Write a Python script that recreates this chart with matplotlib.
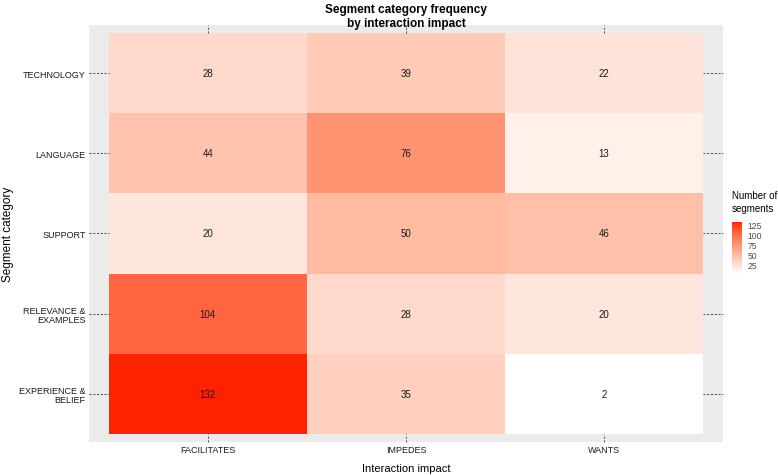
import numpy as np
import matplotlib.pyplot as plt
from matplotlib.colors import ListedColormap, Normalize, to_rgb

plt.rcParams['font.family'] = ['Liberation Sans', 'DejaVu Sans']

# dados
impacts = ['FACILITATES', 'IMPEDES', 'WANTS']
categories = ['EXPERIENCE &\nBELIEF', 'RELEVANCE &\nEXAMPLES', 'SUPPORT', 'LANGUAGE', 'TECHNOLOGY']
facilitates = [132, 104, 20, 44, 28]
impedes = [35, 28, 50, 76, 39]
wants = [2, 20, 46, 13, 22]
legend_ticks = [25, 50, 75, 100, 125]

counts = np.array([facilitates, impedes, wants]).T  # linhas = categorias


# gradiente branco -> vermelho interpolado em Lab (como no ggplot)
def rgb2lab(c):
    c = np.asarray(c, float)
    c = np.where(c > 0.04045, ((c + 0.055) / 1.055) ** 2.4, c / 12.92)
    M = np.array([[0.4124, 0.3576, 0.1805], [0.2126, 0.7152, 0.0722], [0.0193, 0.1192, 0.9505]])
    xyz = M @ c / np.array([0.95047, 1.0, 1.08883])
    f = np.where(xyz > 0.008856, np.cbrt(xyz), 7.787 * xyz + 16 / 116)
    return np.array([116 * f[1] - 16, 500 * (f[0] - f[1]), 200 * (f[1] - f[2])])


def lab2rgb(lab):
    L, a, b = lab
    fy = (L + 16) / 116
    f = np.array([fy + a / 500, fy, fy - b / 200])
    xyz = np.where(f ** 3 > 0.008856, f ** 3, (f - 16 / 116) / 7.787) * np.array([0.95047, 1.0, 1.08883])
    Minv = np.array([[3.2406, -1.5372, -0.4986], [-0.9689, 1.8758, 0.0415], [0.0557, -0.2040, 1.0570]])
    c = Minv @ xyz
    c = np.where(c > 0.0031308, 1.055 * np.clip(c, 0, None) ** (1 / 2.4) - 0.055, 12.92 * c)
    return np.clip(c, 0, 1)


lab_lo, lab_hi = rgb2lab(to_rgb('#FFFFFF')), rgb2lab(to_rgb('#FF2200'))
cmap = ListedColormap([lab2rgb(lab_lo + t * (lab_hi - lab_lo)) for t in np.linspace(0, 1, 256)])
norm = Normalize(vmin=counts.min(), vmax=counts.max())

fig = plt.figure(figsize=(7.78, 4.77), dpi=100)
ax = fig.add_axes([89 / 778, 1 - 443 / 477, 634 / 778, 417 / 477])
ax.set_facecolor('#EBEBEB')

ax.pcolormesh(np.arange(len(impacts) + 1) - 0.5, np.arange(len(categories) + 1) - 0.5,
              counts, cmap=cmap, norm=norm)

for i in range(len(categories)):
    for j in range(len(impacts)):
        ax.text(j, i, str(counts[i, j]), ha='center', va='center', fontsize=7, color='#1A1A1A')

ax.set_xlim(-0.6, len(impacts) - 0.4)
ax.set_ylim(-0.6, len(categories) - 0.4)

# ticks tracejados dentro da margem do painel
tick_kw = dict(ls=(0, (2.5, 2)), lw=0.6, color='#333333', clip_on=False)
for i in range(len(categories)):
    ax.plot([-0.6, -0.5], [i, i], **tick_kw)
    ax.plot([len(impacts) - 0.5, len(impacts) - 0.4], [i, i], **tick_kw)
for j in range(len(impacts)):
    ax.plot([j, j], [-0.6, -0.5], **tick_kw)
    ax.plot([j, j], [len(categories) - 0.5, len(categories) - 0.4], **tick_kw)

ax.set_xticks(range(len(impacts)))
ax.set_xticklabels(impacts, fontsize=6.5, color='#1A1A1A')
ax.set_yticks(range(len(categories)))
ax.set_yticklabels(categories, fontsize=6.5, color='#1A1A1A', linespacing=1.0)
ax.tick_params(length=0, pad=2.5)
for s in ax.spines.values():
    s.set_visible(False)

ax.set_xlabel('Interaction impact', fontsize=8, labelpad=6)
ax.set_ylabel('Segment category', fontsize=8.5, labelpad=3.5)
fig.text(406 / 778, 1 - 27 / 477, 'Segment category frequency\nby interaction impact',
         fontsize=8.5, fontweight='bold', linespacing=1.25, ha='center', va='baseline',
         multialignment='center')

# legenda (barra de cores)
cax = fig.add_axes([732 / 778, 1 - 275 / 477, 10 / 778, 52 / 477])
cb = fig.colorbar(plt.cm.ScalarMappable(norm=norm, cmap=cmap), cax=cax, ticks=legend_ticks)
cb.outline.set_visible(False)
cax.tick_params(length=2, width=0.5, color='white', labelsize=6.2, labelcolor='#4D4D4D', pad=2)
fig.text(732 / 778, 1 - 191 / 477, 'Number of\nsegments', fontsize=7, va='top', ha='left',
         linespacing=1.35)

plt.savefig('out.png', dpi=100)
